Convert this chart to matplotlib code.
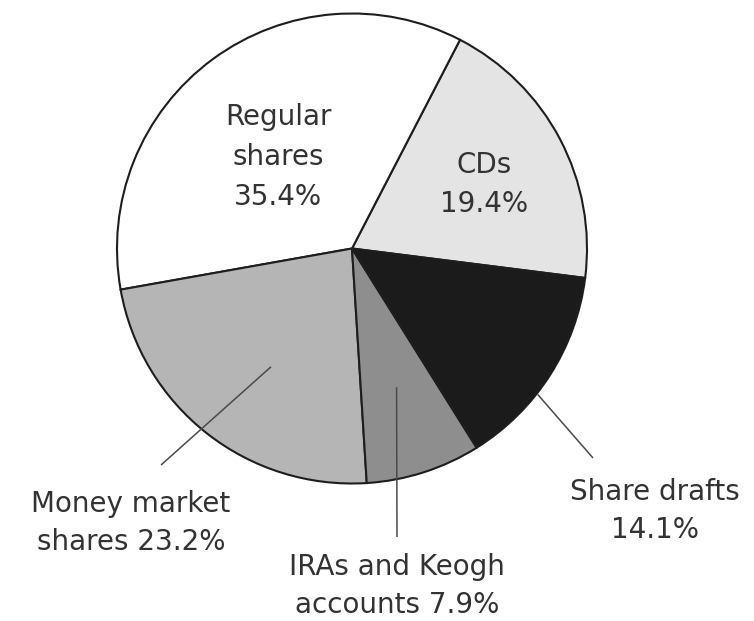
import numpy as np
import matplotlib
matplotlib.use("Agg")
import matplotlib.pyplot as plt

# data, in drawing order (counterclockwise from the start angle)
categories = ["CDs", "Regular shares", "Money market shares",
              "IRAs and Keogh accounts", "Share drafts"]
shares_pct = [19.4, 35.4, 23.2, 7.9, 14.1]
label_lines = [
    ["CDs", "19.4%"],
    ["Regular", "shares", "35.4%"],
    ["Money market", "shares 23.2%"],
    ["IRAs and Keogh", "accounts 7.9%"],
    ["Share drafts", "14.1%"],
]

# styling / layout
fills = ["#e4e4e4", "#ffffff", "#b5b5b5", "#8e8e8e", "#1b1b1b"]
text_color = "#333333"
W, H = 754, 621
cx, cy, R = 352, 248.5, 235          # pie centre and radius, image pixels
start_angle = -7.2

# label anchor (x centre, first baseline, line step) in image pixels
label_pos = [
    (484, 173, 39),
    (278, 125, 40),
    (131, 512, 38),
    (397, 575, 38),
    (655, 500, 38),
]
# leader lines: (fraction along wedge angle, fraction of radius, end x, end y)
leaders = {
    2: (0.545, 0.61, 161, 465),
    3: (0.50, 0.62, 397, 537),
    4: (0.39, 1.005, 593, 458),
}

plt.rcParams["font.family"] = ["DejaVu Sans"]

fig = plt.figure(figsize=(W / 100, H / 100), dpi=100)
ax = fig.add_axes([0, 0, 1, 1])
ax.set_xlim(0, W)
ax.set_ylim(0, H)


def fy(y):
    # image y (down) -> axes y (up)
    return H - y


wedges, _ = ax.pie(shares_pct, colors=fills, startangle=start_angle,
                   center=(cx, fy(cy)), radius=R, counterclock=True,
                   wedgeprops=dict(edgecolor="#1e1e1e", linewidth=1.5))
ax.set_xlim(0, W)
ax.set_ylim(0, H)
ax.set_aspect("auto")
ax.axis("off")

for i, (x, y0, step) in enumerate(label_pos):
    for k, line in enumerate(label_lines[i]):
        ax.text(x, fy(y0 + k * step), line, ha="center", va="baseline",
                fontsize=20, color=text_color)

for i, (fa, fr, ex, ey) in leaders.items():
    w = wedges[i]
    ang = np.radians(w.theta1 + fa * (w.theta2 - w.theta1))
    sx = cx + fr * R * np.cos(ang)
    sy = fy(cy) + fr * R * np.sin(ang)
    ax.plot([sx, ex], [sy, fy(ey)], color="#4a4a4a", lw=1.1,
            solid_capstyle="butt")

fig.savefig("out.png", dpi=100)
